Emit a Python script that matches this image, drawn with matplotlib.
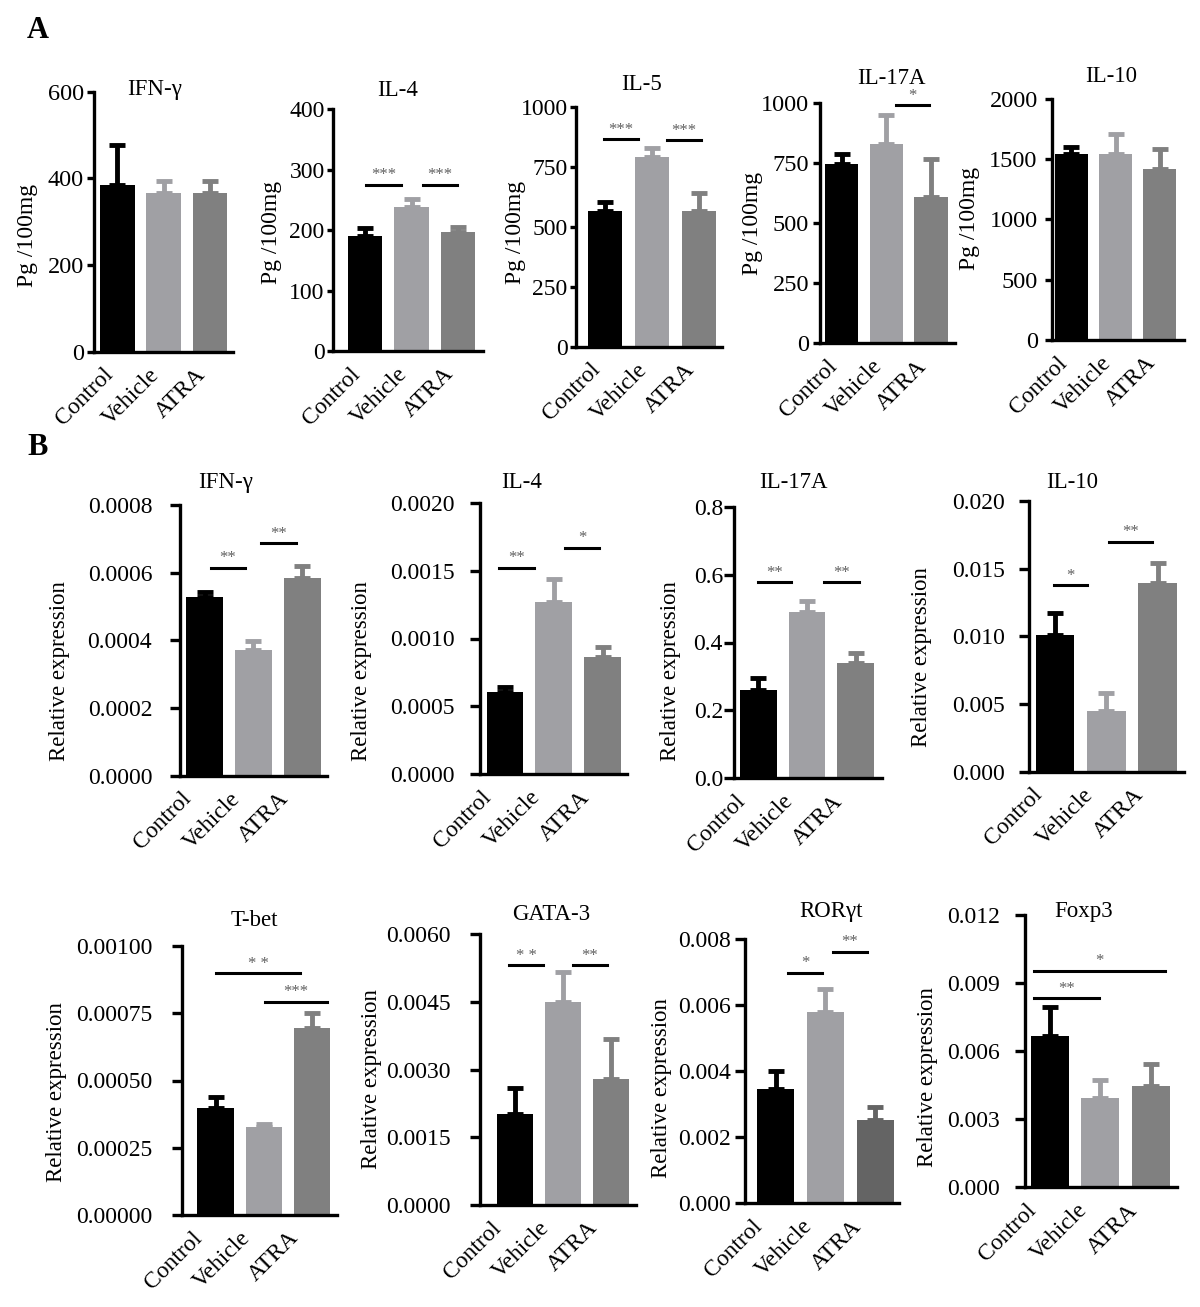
import matplotlib.pyplot as plt
import matplotlib.transforms as mtransforms
import numpy as np
from matplotlib.ticker import FormatStrFormatter

plt.rcParams['font.family'] = ['Liberation Serif', 'DejaVu Serif']

groups = ['Control', 'Vehicle', 'ATRA']

# A: cytokine protein, Pg /100mg
ifn_a = [385, 366, 366]
ifn_a_err = [92, 27, 27]
il4_a = [191, 238, 197]
il4_a_err = [12, 13, 8]
il5_a = [567, 792, 567]
il5_a_err = [37, 35, 75]
il17_a = [745, 827, 609]
il17_a_err = [42, 122, 157]
il10_a = [1539, 1542, 1415]
il10_a_err = [63, 163, 168]

# B: relative mRNA expression
ifn_b = [0.000527, 0.000371, 0.000585]
ifn_b_err = [0.000017, 0.000027, 0.000035]
il4_b = [0.000608, 0.00127, 0.000866]
il4_b_err = [0.000037, 0.000165, 0.00007]
il17_b = [0.26, 0.49, 0.341]
il17_b_err = [0.034, 0.032, 0.027]
il10_b = [0.0101, 0.0045, 0.01392]
il10_b_err = [0.00165, 0.00129, 0.00148]

# transcription factors
tbet = [0.000397, 0.000326, 0.000696]
tbet_err = [0.000043, 0.000011, 0.000056]
gata3 = [0.00202, 0.00451, 0.00279]
gata3_err = [0.00057, 0.00065, 0.0009]
rorgt = [0.003455, 0.0058, 0.00252]
rorgt_err = [0.000565, 0.00068, 0.00041]
foxp3 = [0.00667, 0.00395, 0.00446]
foxp3_err = [0.00126, 0.00078, 0.00096]

# significance bars: (from, to, height, stars)
il4_a_sig = [(0.03, 0.77, 275, '***'), (1.24, 1.97, 275, '***')]
il5_a_sig = [(-0.02, 0.71, 864, '***'), (1.33, 2.05, 861, '***')]
il17_a_sig = [(1.22, 1.96, 990, '*')]
ifn_b_sig = [(0.13, 0.83, 0.000615, '**'), (1.16, 1.87, 0.000687, '**')]
il4_b_sig = [(-0.13, 0.59, 0.00152, '**'), (1.23, 1.93, 0.00167, '*')]
il17_b_sig = [(-0.01, 0.68, 0.577, '**'), (1.36, 2.06, 0.577, '**')]
il10_b_sig = [(-0.03, 0.625, 0.0138, '*'), (1.06, 1.89, 0.017, '**')]
tbet_sig = [(0.01, 1.75, 0.000898, '* *'), (1.02, 2.31, 0.000793, '***')]
gata3_sig = [(-0.12, 0.59, 0.00532, '* *'), (1.21, 1.93, 0.00532, '**')]
rorgt_sig = [(0.25, 0.94, 0.00699, '*'), (1.15, 1.83, 0.00762, '**')]
foxp3_sig = [(-0.31, 0.98, 0.00833, '**'), (-0.31, 2.27, 0.00955, '*')]

colors = ['#000000', '#a0a0a4', '#808080']
colors_ror = ['#000000', '#a0a0a4', '#646464']

W, H = 1200, 1307
fig = plt.figure(figsize=(12, 13.07), dpi=100)


def panel(box, xlim, vals, errs, ymax, step, fmt, title, title_xy, ylabel, ylab_xy,
          ylab_size, tick_size, pad, sig=(), cols=colors, width=0.75, lab_dx=-0.24,
          tick_len=7):
    left, right, top, bottom = box
    ax = fig.add_axes([left / W, 1 - bottom / H, (right - left) / W, (bottom - top) / H])
    x = np.arange(3)
    ax.bar(x, vals, width=width, color=cols, zorder=2)
    for i in x:
        ax.errorbar(i, vals[i], yerr=[[0], [errs[i]]], fmt='none', ecolor=cols[i],
                    elinewidth=3.5, capsize=6, capthick=3.5, zorder=1)
    ax.set_xlim(*xlim)
    ax.set_ylim(0, ymax)
    ax.set_yticks(np.arange(0, ymax + step / 2, step))
    ax.yaxis.set_major_formatter(FormatStrFormatter(fmt))
    for s in ['top', 'right']:
        ax.spines[s].set_visible(False)
    for s in ['left', 'bottom']:
        ax.spines[s].set_linewidth(2.4)
    ax.tick_params(axis='y', length=tick_len, width=2.4, labelsize=tick_size, pad=pad)
    ax.tick_params(axis='x', length=0, labelsize=17, pad=4)
    ax.set_xticks(x)
    ax.set_xticklabels(groups, rotation=45, ha='right', va='top', rotation_mode='anchor')
    shift = mtransforms.ScaledTranslation(lab_dx, -0.07, fig.dpi_scale_trans)
    for lab in ax.get_xticklabels():
        lab.set_transform(lab.get_transform() + shift)
    for x0, x1, y, stars in sig:
        ax.plot([x0, x1], [y, y], color='black', lw=2.2, clip_on=False, zorder=3)
        ax.annotate(stars, ((x0 + x1) / 2, y), xytext=(0, 1), textcoords='offset points',
                    ha='center', va='bottom', fontsize=12, color='#606060',
                    annotation_clip=False)
    fig.text(title_xy[0] / W, 1 - title_xy[1] / H, title, ha='center', va='center',
             fontsize=16.5)
    fig.text(ylab_xy[0] / W, 1 - ylab_xy[1] / H, ylabel, ha='center', va='center',
             rotation=90, fontsize=ylab_size)
    return ax


pg = 'Pg /100mg'
rel = 'Relative expression'

# row A
panel((93.8, 233, 91.7, 351.7), (-0.507, 2.496), ifn_a, ifn_a_err, 600, 200, '%d',
      'IFN-γ', (155, 89), pg, (27, 235), 17, 17.5, 2, lab_dx=-0.15, tick_len=5)
panel((333, 483, 109.3, 351), (-0.68, 2.53), il4_a, il4_a_err, 400, 100, '%d',
      'IL-4', (398, 90), pg, (271, 232), 17, 17, 1.5, il4_a_sig, width=0.73,
      lab_dx=-0.15, tick_len=4.5)
panel((576, 722, 106.7, 346.7), (-0.62, 2.5), il5_a, il5_a_err, 1000, 250, '%d',
      'IL-5', (642, 85), pg, (516, 232), 17, 17, 1.5, il5_a_sig, width=0.73,
      lab_dx=-0.15, tick_len=4.5)
panel((820, 955, 102.7, 343.3), (-0.48, 2.53), il17_a, il17_a_err, 1000, 250, '%d',
      'IL-17A', (891, 78), pg, (753, 223), 17, 17.5, 3, il17_a_sig, lab_dx=-0.15,
      tick_len=5)
panel((1051.6, 1183.6, 98.7, 340), (-0.45, 2.54), il10_a, il10_a_err, 2000, 500, '%d',
      'IL-10', (1111, 76), pg, (969, 218), 17, 17.5, 5, lab_dx=-0.15, tick_len=5)

# row B
panel((180, 327, 505, 775.7), (-0.5, 2.5), ifn_b, ifn_b_err, 0.0008, 0.0002, '%.4f',
      'IFN-γ', (226, 482), rel, (59, 671), 16.5, 17, 13, ifn_b_sig)
panel((480, 627, 502.7, 774.3), (-0.51, 2.5), il4_b, il4_b_err, 0.002, 0.0005, '%.4f',
      'IL-4', (522, 482), rel, (361.6, 671), 16.5, 17, 11, il4_b_sig)
panel((734, 882.4, 506.7, 778.3), (-0.5, 2.55), il17_b, il17_b_err, 0.8, 0.2, '%.1f',
      'IL-17A', (793, 483), rel, (670.8, 671), 16.5, 17, 1, il17_b_sig)
panel((1028.6, 1183.6, 501, 771.7), (-0.52, 2.51), il10_b, il10_b_err, 0.02, 0.005, '%.3f',
      'IL-10', (1072.6, 482), rel, (921.5, 657), 16.5, 17, 10, il10_b_sig)

# row C
panel((181.8, 336.8, 946, 1215), (-0.7, 2.51), tbet, tbet_err, 0.001, 0.00025, '%.5f',
      'T-bet', (254.5, 921), rel, (56.6, 1092), 16.5, 17, 14, tbet_sig)
panel((480, 636, 934.3, 1205), (-0.73, 2.53), gata3, gata3_err, 0.006, 0.0015, '%.4f',
      'GATA-3', (551, 915), rel, (371, 1079), 16.5, 17, 14, gata3_sig)
panel((744.7, 899.3, 939.3, 1203.3), (-0.62, 2.48), rorgt, rorgt_err, 0.008, 0.002, '%.3f',
      'RORγt', (831.5, 912), rel, (661, 1088), 16.5, 17, 3, rorgt_sig, cols=colors_ror)
panel((1024.8, 1177, 915, 1187.3), (-0.49, 2.51), foxp3, foxp3_err, 0.012, 0.003, '%.3f',
      'Foxp3', (1084, 912), rel, (927, 1077), 16.5, 17, 11, foxp3_sig)

fig.text(38 / W, 1 - 30 / H, 'A', ha='center', va='center', fontsize=22, fontweight='bold')
fig.text(38 / W, 1 - 447 / H, 'B', ha='center', va='center', fontsize=22, fontweight='bold')

plt.savefig('out.png', dpi=100)
